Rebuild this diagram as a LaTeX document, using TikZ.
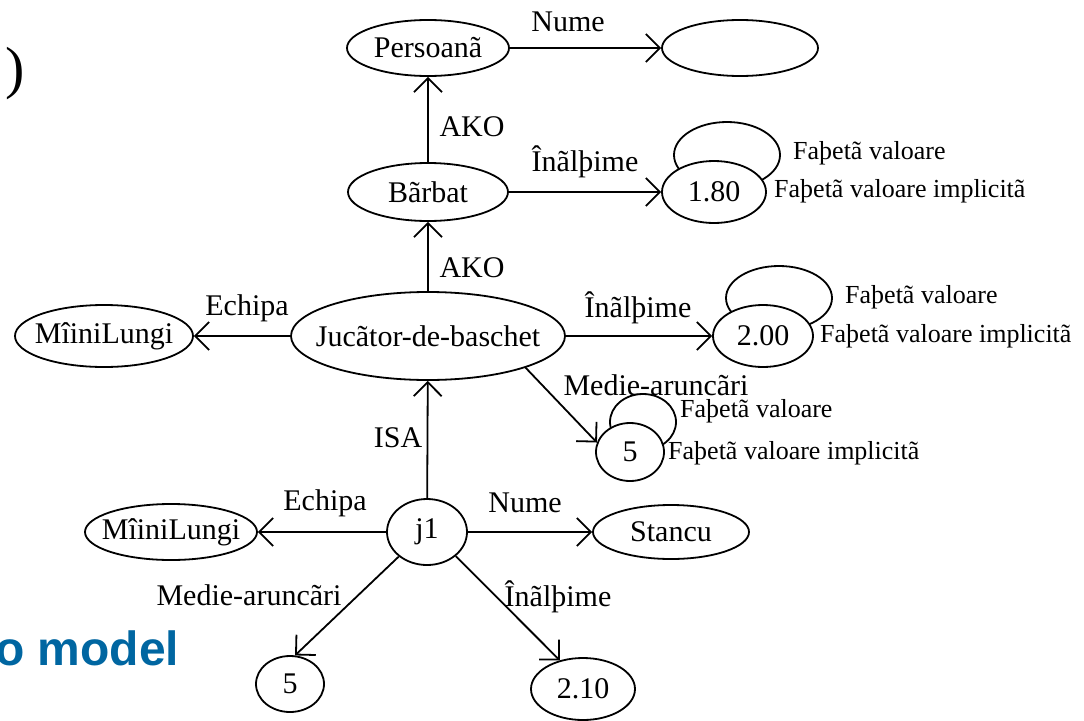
\documentclass[tikz,border=0pt]{standalone}
\usepackage{fontspec}
\setmainfont{Liberation Serif}
\newfontfamily\titlefont{Liberation Sans}
\usetikzlibrary{shapes.geometric, arrows.meta}
\definecolor{titleblue}{RGB}{0,102,161}

\begin{document}
\begin{tikzpicture}[x=1pt, y=-1pt, font=\fontsize{30}{36}\selectfont,
  obj/.style={draw, ellipse, inner sep=0pt, line width=1.8pt, fill=white},
  facetloop/.style={draw, ellipse, inner sep=0pt, line width=1.8pt},
  rel/.style={line width=1.8pt, -{Straight Barb[length=14pt,width=28pt]}},
  lbl/.style={inner sep=0pt},
  facet/.style={inner sep=0pt, anchor=west, font=\fontsize{26}{30}\selectfont}]
\useasboundingbox (0,0) rectangle (1084,720);

% side texts
\node[anchor=base west, inner sep=0pt, font=\fontsize{58}{64}\selectfont] (paren) at (5,87) {)};
\node[anchor=base west, inner sep=0pt, text=titleblue,
      font=\titlefont\bfseries\fontsize{48}{56}\selectfont] (title) at (-5,665) {o model};

% frames
\node[obj, minimum width=162, minimum height=56] (pers) at (428,48) {};
\node[lbl] (perst) at (pers) {Persoanã};
\node[obj, minimum width=156, minimum height=56] (numev) at (740,48) {};

\node[obj, minimum width=160, minimum height=58] (barb) at (428,192) {};
\node[lbl] (barbt) at (barb) {Bãrbat};

\node[obj, minimum width=274, minimum height=88] (jb) at (428,336) {};
\node[lbl] (jbt) at (jb) {Jucãtor-de-baschet};

\node[obj, minimum width=178, minimum height=62] (mlt) at (104,336) {};
\node[lbl] (mltt) at (mlt) {MîiniLungi};

\node[obj, minimum width=80, minimum height=66] (j1) at (427,532) {};
\node[lbl] (j1t) at (j1) {j1};

\node[obj, minimum width=172, minimum height=56] (mlb) at (171,532) {};
\node[lbl] (mlbt) at (mlb) {MîiniLungi};

\node[obj, minimum width=156, minimum height=54] (stan) at (671,532) {};
\node[lbl] (stant) at (stan) {Stancu};

\node[obj, minimum width=68, minimum height=56] (v5) at (290,684) {};
\node[lbl] (v5t) at (v5) {5};

\node[obj, minimum width=104, minimum height=62] (v210) at (583,689) {};
\node[lbl] (v210t) at (v210) {2.10};

% values with their facet loops
\node[facetloop, minimum width=106, minimum height=66] (loopa) at (727,155) {};
\node[obj, minimum width=104, minimum height=62] (va) at (714,192) {};
\node[lbl] (vat) at (va) {1.80};
\node[facet] (fa1) at (793,153) {Faþetã valoare};
\node[facet] (fa2) at (774,191) {Faþetã valoare implicitã};

\node[facetloop, minimum width=106, minimum height=64] (loopb) at (779,298) {};
\node[obj, minimum width=100, minimum height=62] (vb) at (763,336) {};
\node[lbl] (vbt) at (vb) {2.00};
\node[facet] (fb1) at (845,297) {Faþetã valoare};
\node[facet] (fb2) at (820,336) {Faþetã valoare implicitã};

\node[facetloop, minimum width=66, minimum height=56] (loopc) at (643,422) {};
\node[obj, minimum width=68, minimum height=58] (vc) at (630,452) {};
\node[lbl] (vct) at (vc) {5};
\node[facet] (fc1) at (680,411) {Faþetã valoare};
\node[facet] (fc2) at (668,453) {Faþetã valoare implicitã};

% relations
\draw[rel] (pers) -- (numev);
\draw[rel] (barb) -- (pers);
\draw[rel] (barb) -- (va);
\draw[rel] (jb) -- (barb);
\draw[rel] (jb) -- (mlt);
\draw[rel] (jb) -- (vb);
\draw[rel] (jb.-18) -- (vc.164);
\draw[rel] (j1) -- (jb);
\draw[rel] (j1) -- (mlb);
\draw[rel] (j1) -- (stan);
\draw[rel] (j1.-139) -- (v5.80);
\draw[rel] (j1.-40) -- (v210.129);

% relation names
\node[lbl] (l1) at (568,22) {Nume};
\node[lbl] (l2) at (472,127) {AKO};
\node[lbl] (l3) at (585,162) {Înãlþime};
\node[lbl] (l4) at (472,268) {AKO};
\node[lbl] (l5) at (247,308) {Echipa};
\node[lbl] (l6) at (638,308) {Înãlþime};
\node[lbl] (l7) at (656,385) {Medie-aruncãri};
\node[lbl] (l8) at (398,438) {ISA};
\node[lbl] (l9) at (325,503) {Echipa};
\node[lbl] (l10) at (525,503) {Nume};
\node[lbl] (l11) at (249,595) {Medie-aruncãri};
\node[lbl] (l12) at (558,597) {Înãlþime};
\end{tikzpicture}
\end{document}
